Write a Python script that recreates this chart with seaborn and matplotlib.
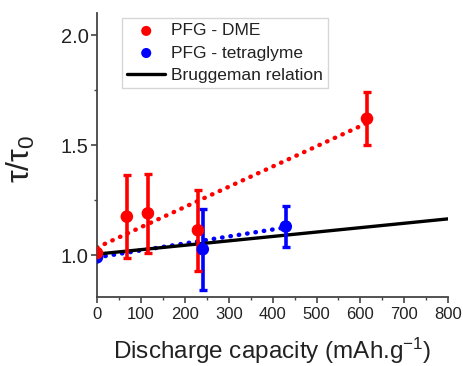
import numpy as np
import pandas as pd
import matplotlib
matplotlib.use("Agg")
import matplotlib.pyplot as plt
import seaborn as sns
from matplotlib.ticker import MultipleLocator

# Measured tortuosity ratios vs. discharge capacity
dme_capacity = [0, 68, 116, 230, 615]
dme_ratio = [1.01, 1.175, 1.19, 1.113, 1.62]
dme_err = [0.0, 0.19, 0.18, 0.185, 0.12]

tet_capacity = [0, 241, 430]
tet_ratio = [0.99, 1.027, 1.13]
tet_err = [0.0, 0.185, 0.095]

# Linear trend lines (end points)
dme_fit_capacity = [0, 615]
dme_fit_ratio = [1.035, 1.60]
tet_fit_capacity = [0, 430]
tet_fit_ratio = [0.99, 1.126]

# Bruggeman relation end points
brug_capacity = [0, 800]
brug_ratio = [1.005, 1.165]

xticks = [0, 100, 200, 300, 400, 500, 600, 700, 800]
yticks = [1.0, 1.5, 2.0]

sns.set_theme(style="ticks")
plt.rcParams["font.family"] = ["Liberation Sans", "DejaVu Sans"]
plt.rcParams["mathtext.fontset"] = "custom"
plt.rcParams["mathtext.rm"] = "Liberation Sans"
plt.rcParams["mathtext.it"] = "Liberation Sans:italic"

RED = "#ff0000"
BLUE = "#0000ff"
INK = "#222222"

fig = plt.figure(figsize=(4.64, 3.66), dpi=100)
ax = fig.add_axes([0.209, 0.1885, 0.757, 0.776])

dots = (0, (0.1, 1.8))
sns.lineplot(x=dme_fit_capacity, y=dme_fit_ratio, ax=ax, color=RED, lw=3.2,
             linestyle=dots, dash_capstyle="round", zorder=2)
sns.lineplot(x=tet_fit_capacity, y=tet_fit_ratio, ax=ax, color=BLUE, lw=3.2,
             linestyle=dots, dash_capstyle="round", zorder=2)

sns.lineplot(x=brug_capacity, y=brug_ratio, ax=ax, color="black", lw=2.4,
             zorder=3, label="Bruggeman relation")

ax.errorbar(tet_capacity, tet_ratio, yerr=tet_err, fmt="none",
            ecolor=BLUE, elinewidth=2.6, capsize=3.2, capthick=2.4, zorder=4)
ax.errorbar(dme_capacity, dme_ratio, yerr=dme_err, fmt="none",
            ecolor=RED, elinewidth=2.6, capsize=3.2, capthick=2.4, zorder=4)

tet = pd.DataFrame({"x": tet_capacity, "y": tet_ratio})
dme = pd.DataFrame({"x": dme_capacity, "y": dme_ratio})
sns.scatterplot(data=tet, x="x", y="y", ax=ax, color=BLUE, s=82,
                edgecolor="none", zorder=5, label="PFG - tetraglyme")
sns.scatterplot(data=dme, x="x", y="y", ax=ax, color=RED, s=82,
                edgecolor="none", zorder=6, label="PFG - DME")

ax.set_xlim(0, 800)
ax.set_ylim(0.81, 2.1)
ax.set_xticks(xticks)
ax.set_yticks(yticks)
ax.set_yticklabels([f"{v:.1f}" for v in yticks])
ax.xaxis.set_minor_locator(MultipleLocator(50))
ax.yaxis.set_minor_locator(MultipleLocator(0.25))
ax.tick_params(axis="both", which="major", direction="out", length=4,
               width=1.2, color="#444444", labelcolor=INK)
ax.tick_params(axis="both", which="minor", direction="out", length=2.5,
               width=1.0, color="#444444")
ax.tick_params(axis="x", labelsize=12, pad=3)
ax.tick_params(axis="y", labelsize=14.5, pad=2)

for side in ("top", "right"):
    ax.spines[side].set_visible(False)
for side in ("left", "bottom"):
    ax.spines[side].set_linewidth(1.3)
    ax.spines[side].set_color("#444444")

ax.set_xlabel(r"Discharge capacity (mAh.g$^{\mathregular{-1}}$)", fontsize=17.5,
              color=INK)
ax.xaxis.set_label_coords(0.5, -0.135)
ax.set_ylabel(r"$\mathregular{\tau/\tau_0}$", fontsize=23, color=INK,
              math_fontfamily="dejavusans")
ax.yaxis.set_label_coords(-0.17, 0.486)

handles, labels = ax.get_legend_handles_labels()
order = [labels.index(n) for n in ("PFG - DME", "PFG - tetraglyme",
                                   "Bruggeman relation")]
leg = ax.legend([handles[i] for i in order], [labels[i] for i in order],
                loc="upper left", bbox_to_anchor=(0.071, 0.982),
                fontsize=12.5, frameon=True, fancybox=False,
                edgecolor="#cccccc", handlelength=2.2, handletextpad=0.35,
                labelspacing=0.4, borderpad=0.3, borderaxespad=0.0,
                markerscale=0.8)
leg.get_frame().set_linewidth(1.0)
for t in leg.get_texts():
    t.set_color(INK)

fig.savefig("out.png", dpi=100)
